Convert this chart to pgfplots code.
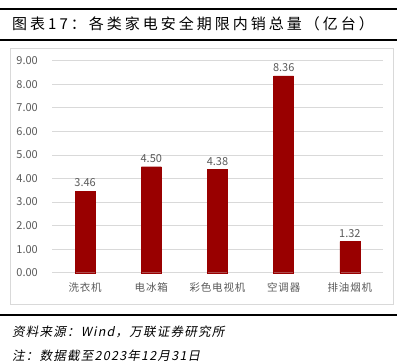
\documentclass[border=0pt]{standalone}
\usepackage{fontspec}
\usepackage{pgfplots}
\pgfplotsset{compat=1.18}
\setmainfont{Noto Sans CJK SC}
\newfontfamily\cjk{Noto Sans CJK SC}
\newfontfamily\cjkit[FakeSlant=0.2,LetterSpace=10]{Noto Sans CJK SC}
\newfontfamily\cjktitle[LetterSpace=20]{Noto Sans CJK SC}
\newfontfamily\cjkcat[LetterSpace=8]{Noto Sans CJK SC}
\definecolor{barred}{HTML}{990000}
\definecolor{tickgray}{HTML}{595959}
\definecolor{gridgray}{HTML}{D9D9D9}
\begin{document}
\begin{tikzpicture}
\useasboundingbox (0,0) rectangle (402pt,-364pt);
\draw[line width=2pt] (0,-9pt) -- (397pt,-9pt);
\node[anchor=west, inner sep=0] at (12pt,-23.5pt) {\cjktitle\fontsize{15pt}{15pt}\selectfont 图表17：各类家电安全期限内销总量（亿台）};
\draw[line width=2.2pt] (0,-40pt) -- (397pt,-40pt);
\draw[gridgray, line width=0.8pt] (10pt,-48pt) rectangle (393pt,-304pt);
\begin{axis}[
  at={(52pt,-272.7pt)}, anchor=south west,
  scale only axis, width=331pt, height=212pt,
  xmin=-0.5, xmax=4.5, ymin=0, ymax=9,
  ytick={0,1,...,9},
  xtick=data,
  xticklabels={洗衣机,电冰箱,彩色电视机,空调器,排油烟机},
  axis line style={draw=none},
  major tick length=0pt,
  ymajorgrids,
  grid style={color=gridgray, line width=0.8pt},
  /pgf/number format/.cd, fixed, fixed zerofill, precision=2, assume math mode=true,
  /pgfplots/.cd,
  yticklabel style={font=\fontsize{11pt}{11pt}\selectfont, text=tickgray, anchor=east, inner sep=0pt, xshift=-14pt},
  xticklabel style={font=\cjkcat\fontsize{10.5pt}{10.5pt}\selectfont, text=tickgray, anchor=north, inner sep=0pt, yshift=-10pt},
  nodes near coords,
  every node near coord/.append style={font=\fontsize{11pt}{11pt}\selectfont, text=tickgray, anchor=south, inner sep=0pt, yshift=4pt},
  clip=false,
]
\addplot[ybar, bar width=20pt, fill=barred, draw=barred] coordinates {(0,3.46) (1,4.50) (2,4.38) (3,8.36) (4,1.32)};
\end{axis}
\draw[line width=2pt] (0,-315pt) -- (397pt,-315pt);
\node[anchor=west, inner sep=0] at (12pt,-332pt) {\cjkit\fontsize{12.5pt}{12.5pt}\selectfont 资料来源：Wind，万联证券研究所};
\node[anchor=west, inner sep=0] at (12pt,-356pt) {\cjkit\fontsize{12.5pt}{12.5pt}\selectfont 注：数据截至2023年12月31日};
\end{tikzpicture}
\end{document}
